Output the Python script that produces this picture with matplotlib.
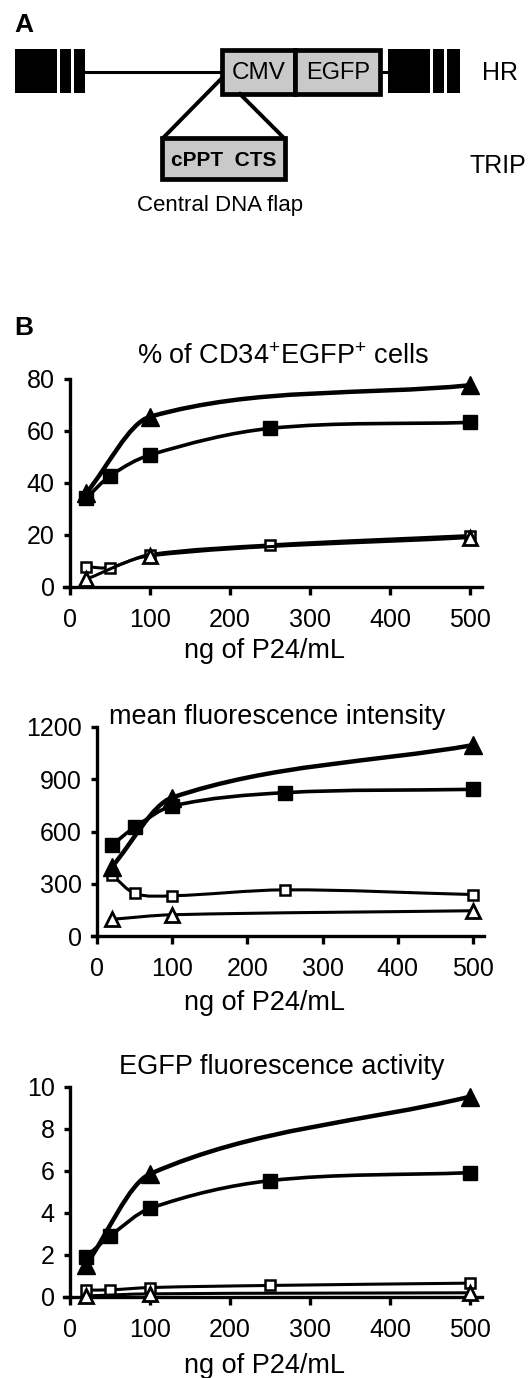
import numpy as np
import matplotlib.pyplot as plt
from matplotlib.path import Path
from matplotlib.patches import PathPatch, Rectangle

plt.rcParams['font.family'] = ['Liberation Sans', 'DejaVu Sans']
plt.rcParams['mathtext.fontset'] = 'custom'
plt.rcParams['mathtext.rm'] = 'Liberation Sans'
plt.rcParams['mathtext.default'] = 'regular'

# ---------------------------------------------------------------
# data
# ---------------------------------------------------------------
dose_hr = [20, 50, 100, 250, 500]
dose_trip = [20, 100, 500]

pct_hr_filled = [34.1, 42.7, 50.8, 61.0, 63.3]
pct_trip_filled = [36.0, 65.5, 77.6]
pct_hr_open = [7.8, 7.5, 12.5, 16.2, 19.8]
pct_trip_open = [3.0, 12.0, 19.0]

mfi_hr_filled = [522, 624, 746, 823, 842]
mfi_trip_filled = [398, 795, 1096]
mfi_hr_open = [350, 245, 231, 265, 238]
mfi_trip_open = [96, 122, 145]

act_hr_filled = [1.92, 2.9, 4.22, 5.54, 5.92]
act_trip_filled = [1.52, 5.86, 9.54]
act_hr_open = [0.33, 0.34, 0.45, 0.55, 0.66]
act_trip_open = [0.05, 0.15, 0.2]

titles = ['% of CD34$^{+}$EGFP$^{+}$ cells', 'mean fluorescence intensity',
          'EGFP fluorescence activity']
y_ticks = [[0, 20, 40, 60, 80], [0, 300, 600, 900, 1200], [0, 2, 4, 6, 8, 10]]
x_ticks = [0, 100, 200, 300, 400, 500]
x_label = 'ng of P24/mL'

W, H = 531, 1378


def smooth_path(x, y):
    # smooth monotone-in-x bezier through the points (like the Prism spline)
    x = np.asarray(x, float)
    y = np.asarray(y, float)
    sec = np.diff(y) / np.diff(x)
    m = np.empty_like(y)
    m[0], m[-1] = sec[0], sec[-1]
    m[1:-1] = (y[2:] - y[:-2]) / (x[2:] - x[:-2])
    verts = [(x[0], y[0])]
    codes = [Path.MOVETO]
    for i in range(len(x) - 1):
        h = (x[i + 1] - x[i]) / 3
        verts += [(x[i] + h, y[i] + m[i] * h),
                  (x[i + 1] - h, y[i + 1] - m[i + 1] * h),
                  (x[i + 1], y[i + 1])]
        codes += [Path.CURVE4] * 3
    return Path(verts, codes)


def px_rect(left, bottom_px, right, top_px):
    return [left / W, 1 - bottom_px / H, (right - left) / W, (bottom_px - top_px) / H]


fig = plt.figure(figsize=(W / 100, H / 100), dpi=100)

# ---------------------------------------------------------------
# panel A : vector schematic
# ---------------------------------------------------------------
ax0 = fig.add_axes([0, 1 - 230 / H, 1, 230 / H])
ax0.set_xlim(0, W)
ax0.set_ylim(230, 0)
ax0.axis('off')
gray = '#c9c9c9'

ax0.text(14, 25, 'A', fontsize=19, fontweight='bold', va='center', ha='left')
# LTR blocks
for x0, x1, stripes in [(15, 85, [57, 71]), (388, 460, [430, 444])]:
    ax0.add_patch(Rectangle((x0, 49), x1 - x0, 44, color='black', lw=0))
    for s in stripes:
        ax0.add_patch(Rectangle((s, 49), 3, 44, color='white', lw=0))
ax0.plot([85, 222], [72, 72], color='black', lw=2.2)
ax0.plot([380, 388], [72, 72], color='black', lw=2.2)
ax0.add_patch(Rectangle((222, 50), 73, 44, facecolor=gray, edgecolor='black', lw=3.4))
ax0.add_patch(Rectangle((295, 50), 85, 44, facecolor=gray, edgecolor='black', lw=3.4))
ax0.text(259, 73, 'CMV', fontsize=17.5, ha='center', va='center')
ax0.text(338, 73, 'EGFP', fontsize=17, ha='center', va='center')
ax0.plot([222, 163], [78, 138], color='black', lw=2.8)
ax0.plot([240, 284], [94, 138], color='black', lw=2.8)
ax0.add_patch(Rectangle((162, 138), 123, 41, facecolor=gray, edgecolor='black', lw=3.4))
ax0.text(223.5, 160, 'cPPT  CTS', fontsize=15, fontweight='bold', ha='center', va='center')
ax0.text(220, 205, 'Central DNA flap', fontsize=16, ha='center', va='center')
ax0.text(482, 73, 'HR', fontsize=18, ha='left', va='center')
ax0.text(470, 166, 'TRIP', fontsize=18, ha='left', va='center')

fig.text(14 / W, 1 - 328 / H, 'B', fontsize=19, fontweight='bold', va='center', ha='left')

# ---------------------------------------------------------------
# panel B : three dose response plots
# ---------------------------------------------------------------
panels = [
    (pct_hr_filled, pct_trip_filled, pct_hr_open, pct_trip_open),
    (mfi_hr_filled, mfi_trip_filled, mfi_hr_open, mfi_trip_open),
    (act_hr_filled, act_trip_filled, act_hr_open, act_trip_open),
]
rects = [px_rect(64.4, 587, 482, 379), px_rect(91.7, 936, 484.3, 727),
         px_rect(64.4, 1297, 482, 1087)]
title_xy = [(283, 357), (277, 717), (282, 1067)]
label_y = [651, 1003, 1366]

for k, (hr_f, trip_f, hr_o, trip_o) in enumerate(panels):
    ax = fig.add_axes(rects[k])
    ax.set_xlim(-7, 515)
    ax.set_ylim(0, y_ticks[k][-1])
    ax.spines['top'].set_visible(False)
    ax.spines['right'].set_visible(False)
    ax.spines['left'].set_position(('data', 0))
    for s in ['left', 'bottom']:
        ax.spines[s].set_linewidth(2.4)
    ax.set_xticks(x_ticks)
    ax.set_yticks(y_ticks[k])
    ax.tick_params(axis='x', length=6, width=2.4, pad=9, labelsize=18)
    ax.tick_params(axis='y', length=4, width=2.4, pad=7, labelsize=18)

    series = [
        (dose_hr, hr_o, 's', 'white', 7.5, 1.8, 2.2),
        (dose_trip, trip_o, '^', 'white', 10.5, 2.0, 2.2),
        (dose_hr, hr_f, 's', 'black', 9.5, 1.0, 2.6),
        (dose_trip, trip_f, '^', 'black', 12.5, 1.0, 3.2),
    ]
    for i, (xs, ys, mk, fc, ms, mew, lw) in enumerate(series):
        ax.add_patch(PathPatch(smooth_path(xs, ys), fill=False, lw=lw,
                               edgecolor='black', capstyle='round',
                               joinstyle='round', clip_on=False, zorder=3 + i))
        ax.plot(xs, ys, ls='none', marker=mk, ms=ms, mfc=fc, mec='black',
                mew=mew, clip_on=False, zorder=3.5 + i)

    fig.text(title_xy[k][0] / W, 1 - title_xy[k][1] / H, titles[k],
             fontsize=19.5, ha='center', va='center')
    fig.text(265 / W, 1 - label_y[k] / H, x_label, fontsize=19.5,
             ha='center', va='center')

fig.savefig('out.png', dpi=100)
